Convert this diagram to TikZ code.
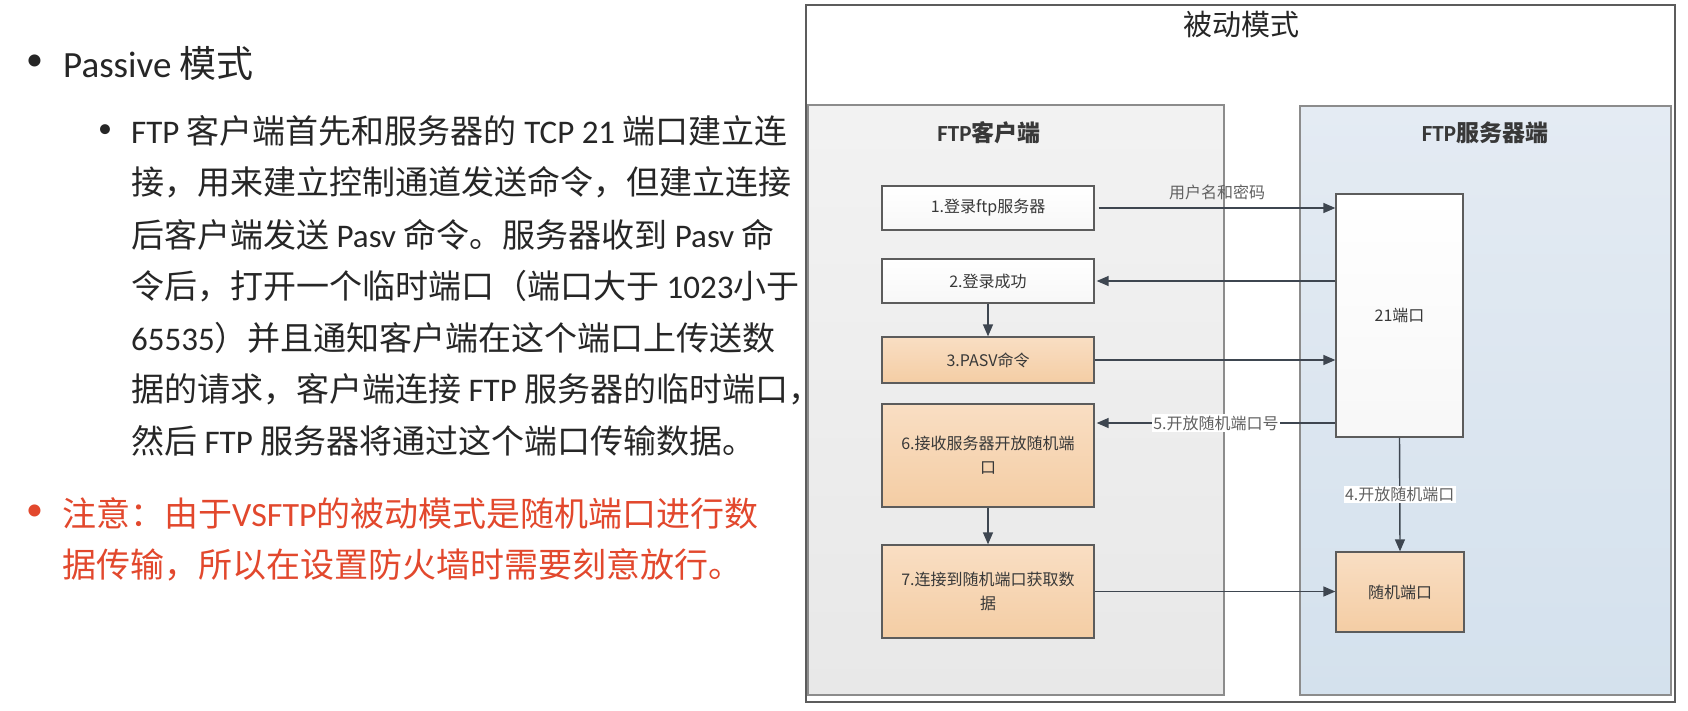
\documentclass[tikz,border=0pt]{standalone}
\usepackage{fontspec}
\usepackage{xcolor}
\usepackage{tikz}
\usetikzlibrary{arrows.meta}

\setmainfont{Noto Sans CJK SC}
\newfontfamily\lat{Carlito}

\definecolor{texto}{HTML}{262626}
\definecolor{rojonota}{HTML}{E2482D}
\definecolor{marco}{HTML}{5C5C5C}
\definecolor{borde}{HTML}{8C8C8C}
\definecolor{linea}{HTML}{3E4650}
\definecolor{naranjaclaro}{HTML}{F9DEC3}
\definecolor{naranjaoscuro}{HTML}{F4CDA4}
\definecolor{azulclaro}{HTML}{E4EBF3}
\definecolor{azuloscuro}{HTML}{D4E1ED}

\tikzset{
  linea/.style={anchor=west, inner sep=0pt, text=texto, font=\fontsize{33}{40}\selectfont},
  paso/.style={draw=marco, line width=1.3pt, top color=white, bottom color=black!3,
    minimum width=212pt, align=center, inner sep=0pt, text=black!78,
    font=\fontsize{16}{24}\selectfont},
  pasonaranja/.style={paso, top color=naranjaclaro, bottom color=naranjaoscuro},
  flecha/.style={draw=linea, line width=1.4pt, -{Triangle[length=12pt,width=10pt]}},
  etiqueta/.style={inner sep=1.5pt, text=black!62, font=\fontsize{16}{18}\selectfont},
}

\begin{document}
\begin{tikzpicture}[x=1pt, y=-1pt]

    % Fondo
    \useasboundingbox (0,0) rectangle (1688,710);
    \fill[white] (0,0) rectangle (1688,710);

    % Texto de la izquierda
    \node[linea, font=\fontsize{34}{40}\selectfont] (punto0) at (26,63) {\lat •};
    \node[linea, font=\fontsize{37}{44}\selectfont] (titulo0) at (63,63) {{\lat Passive} 模式};
    \node[linea, font=\fontsize{28}{30}\selectfont] (punto1) at (98,131) {\lat •};
    \foreach \t [count=\i] in {
        {{\lat FTP} 客户端首先和服务器的 {\lat TCP 21} 端口建立连},
        {接，用来建立控制通道发送命令，但建立连接},
        {后客户端发送 {\lat Pasv} 命令。服务器收到 {\lat Pasv} 命},
        {令后，打开一个临时端口（端口大于 {\lat 1023}小于},
        {{\lat 65535}）并且通知客户端在这个端口上传送数},
        {据的请求，客户端连接 {\lat FTP} 服务器的临时端口，},
        {然后 {\lat FTP} 服务器将通过这个端口传输数据。}}
      \node[linea] (l\i) at (131,{131+51.7*(\i-1)}) {\t};

    % Nota en rojo
    \node[linea, text=rojonota, font=\fontsize{34}{40}\selectfont] (punto2) at (26,513) {\lat •};
    \node[linea, text=rojonota, font=\fontsize{34}{40}\selectfont] (nota1) at (62,513) {注意：由于{\lat VSFTP}的被动模式是随机端口进行数};
    \node[linea, text=rojonota, font=\fontsize{34}{40}\selectfont] (nota2) at (62,565) {据传输，所以在设置防火墙时需要刻意放行。};

    % Marco del diagrama
    \filldraw[fill=white, draw=marco, line width=2pt] (806,5) rectangle (1675,702);
    \node[text=black!85, font=\fontsize{29}{32}\selectfont] (modo) at (1241,25) {被动模式};

    % Panel del cliente
    \shade[top color=black!5, bottom color=black!9] (808,105) rectangle (1224,695);
    \draw[borde, line width=2pt] (808,105) rectangle (1224,695);
    \node[text=black!78, font=\fontsize{23}{26}\selectfont\bfseries] (cliente) at (989,133) {{\lat\bfseries FTP}客户端};

    % Panel del servidor
    \shade[top color=azulclaro, bottom color=azuloscuro] (1300,106) rectangle (1671,695);
    \draw[borde, line width=2pt] (1300,106) rectangle (1671,695);
    \node[text=black!78, font=\fontsize{23}{26}\selectfont\bfseries] (servidor) at (1485,133) {{\lat\bfseries FTP}服务器端};

    % Pasos del cliente
    \node[paso, minimum height=44pt] (caja1) at (988,208) {1.登录ftp服务器};
    \node[paso, minimum height=44pt] (caja2) at (988,281) {2.登录成功};
    \node[pasonaranja, minimum height=46pt] (caja3) at (988,360) {3.PASV命令};
    \node[pasonaranja, minimum height=103pt] (caja6) at (988,455.5) {6.接收服务器开放随机端\\口};
    \node[pasonaranja, minimum height=93pt] (caja7) at (988,591.5) {7.连接到随机端口获取数\\据};

    % Puertos del servidor
    \node[paso, minimum width=127pt, minimum height=243pt] (puerto21) at (1399.5,315.5) {21端口};
    \node[pasonaranja, minimum width=128pt, minimum height=80pt] (azar) at (1400,592) {随机端口};

    % Flechas
    \coordinate (y5) at (1200,423);
    \draw[flecha] ([xshift=4pt]caja1.east) -- node[etiqueta, midway, above=6pt] (usuario) {用户名和密码} (caja1.east -| puerto21.west);
    \draw[flecha] (caja2.east -| puerto21.west) -- ([xshift=2pt]caja2.east);
    \draw[flecha] (caja2.south) -- (caja3.north);
    \draw[flecha] (caja3.east) -- (caja3.east -| puerto21.west);
    \draw[flecha] (puerto21.south) -- node[etiqueta, fill=white] (abre4) {4.开放随机端口} (azar.north);
    \draw[flecha] (puerto21.west |- y5) -- node[etiqueta, fill=white] (abre5) {5.开放随机端口号} ([xshift=2pt]caja6.east |- y5);
    \draw[flecha] (caja6.south) -- (caja7.north);
    \draw[flecha] (caja7.east) -- (caja7.east -| azar.west);

\end{tikzpicture}
\end{document}
